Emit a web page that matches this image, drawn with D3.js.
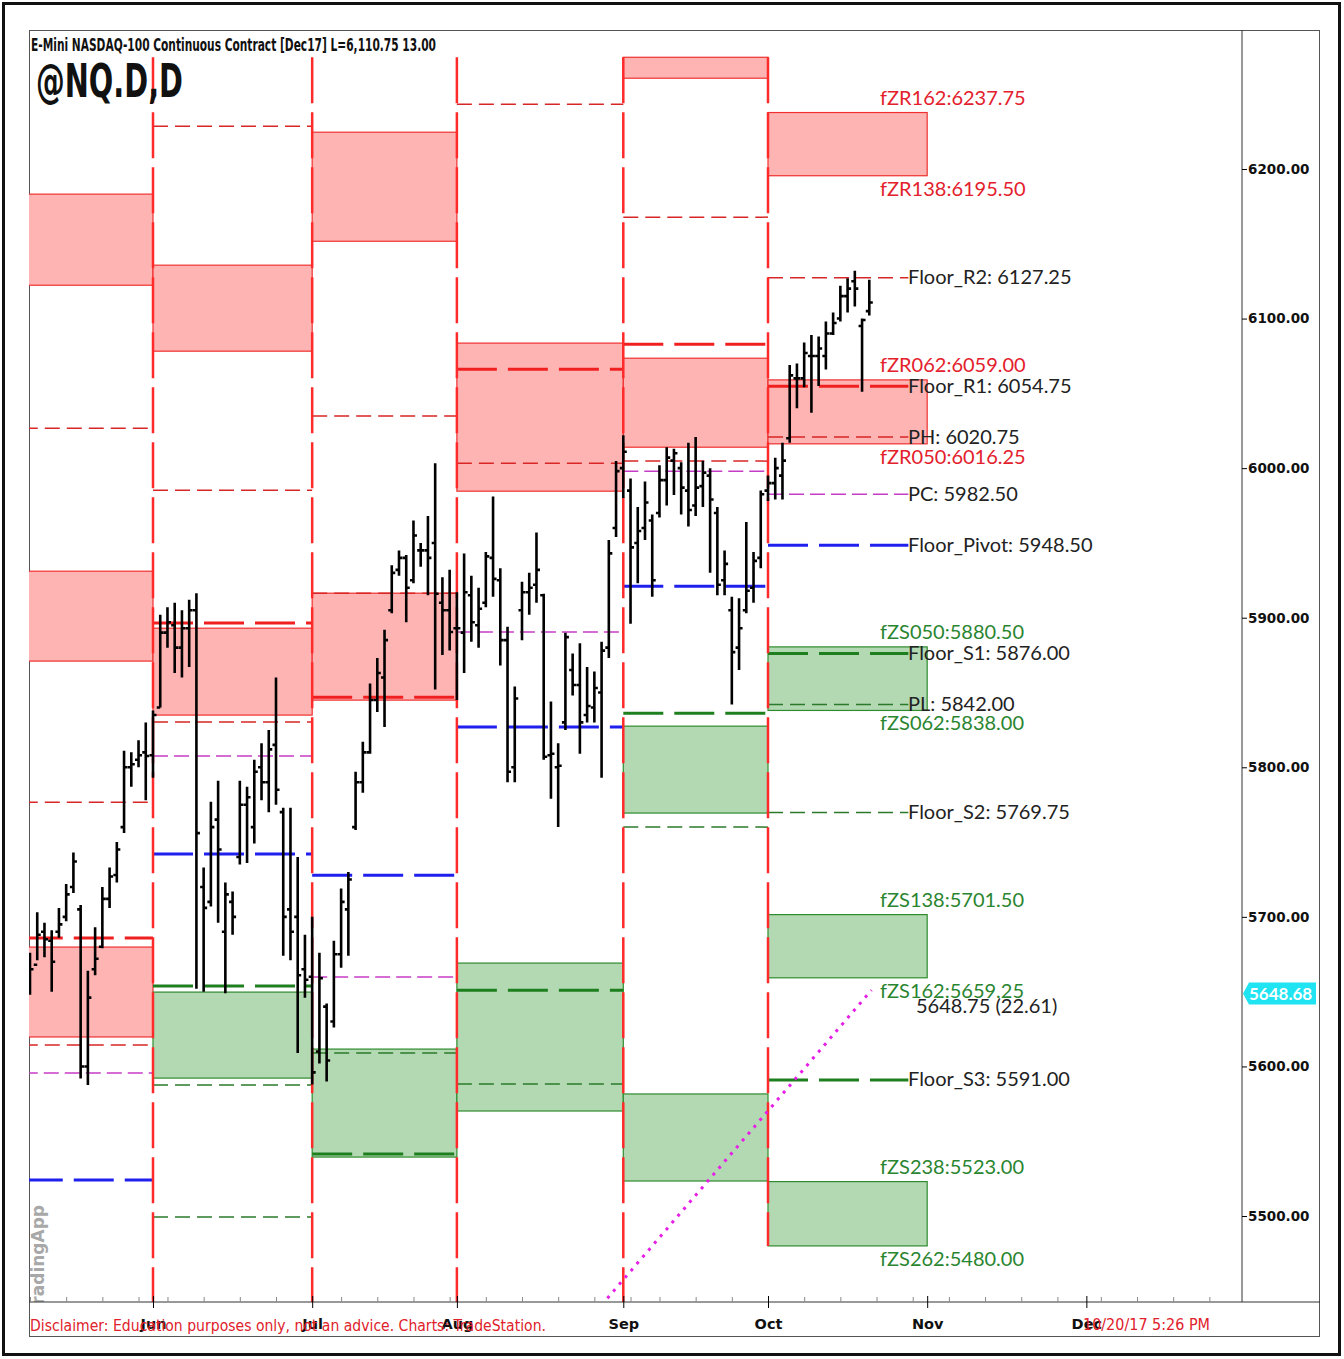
<!DOCTYPE html>
<meta charset="utf-8">
<script src="https://d3js.org/d3.v7.min.js"></script>
<style>
  body { margin: 0; background: #fff; }
</style>
<div id="chart"></div>
<script>
// x positions are trading-day indexes, 0 = first session of June
const monthNames = ["Jun", "Jul", "Aug", "Sep", "Oct", "Nov", "Dec"];
const monthIdx = [0, 22, 42, 65, 85, 107, 129];
const weekIdx = [-17, -12, -7, -2, 2, 7, 12, 17, 26, 31, 36, 41, 46, 51, 56, 61, 66, 70, 75, 80, 90, 95, 100, 105, 110, 115, 120, 125, 131, 136, 141, 146];
const priceTicks = [5500, 5600, 5700, 5800, 5900, 6000, 6100, 6200];

// daily OHLC bars, the first one sits at index -17
const firstBar = -17;
const barOpen = [
  5670, 5668, 5690, 5684, 5690, 5700, 5720, 5705, 5600, 5665, 5680, 5712, 5728, 5760, 5800, 5805, 5810,
  5808, 5840, 5890, 5895, 5880, 5893, 5905, 5720, 5710, 5765, 5690, 5710, 5740, 5775, 5760, 5800, 5790, 5815, 5770, 5705, 5700, 5665,
  5660, 5610, 5640, 5630, 5675, 5705, 5760, 5790, 5810, 5845, 5860, 5905, 5932, 5940, 5925, 5945, 5945, 5950, 5910, 5905,
  5893, 5890, 5915, 5895, 5910, 5940, 5925, 5885, 5800, 5905, 5917, 5922, 5915, 5808, 5800, 5830, 5865, 5855, 5835, 5840, 5850, 5880, 5960,
  6000, 5985, 5950, 5960, 5965, 5970, 5992, 6005, 6000, 5985, 5975, 5988, 5995, 5970, 5925, 5905, 5880, 5905, 5920, 5940,
  5985, 5990, 5995, 6020, 6060, 6060, 6075, 6075, 6075, 6090, 6100, 6115, 6125, 6095, 6105
];
const barHigh = [
  5676, 5703, 5696, 5691, 5706, 5722, 5743, 5708, 5664, 5693, 5720, 5733, 5750, 5811, 5810, 5818, 5830,
  5838, 5902, 5907, 5910, 5905, 5912, 5916.4, 5733, 5777, 5791, 5723, 5717, 5791, 5787, 5805, 5816, 5825, 5860, 5773, 5773, 5740, 5688,
  5700, 5676, 5642, 5684, 5719, 5730, 5797, 5817, 5856, 5873, 5892, 5935, 5945, 5942, 5965, 5950, 5968, 6003.3, 5927, 5932,
  5917, 5943, 5928, 5920, 5944, 5981, 5933, 5894, 5854, 5924, 5930, 5957, 5916, 5844, 5816, 5890, 5876, 5883, 5867, 5864, 5884, 5952, 6004.7,
  6022, 5993, 5974, 5991, 5969, 6002, 6014, 6013, 6004, 6017, 6020.75, 6005, 6000, 5974, 5945, 5914, 5913, 5964, 5944, 5985,
  5995, 6007, 6017, 6069, 6070, 6084, 6089, 6088, 6098, 6104, 6122, 6127, 6132, 6100, 6126
];
const barLow = [
  5648, 5671, 5673, 5650, 5686, 5697, 5716, 5592, 5587.6, 5661, 5679, 5706, 5723, 5756, 5787, 5800, 5778,
  5793, 5840, 5880, 5863, 5860, 5867, 5652, 5650, 5707, 5696, 5649, 5688, 5735, 5736, 5749, 5778, 5770, 5775, 5674, 5671, 5609, 5646,
  5588, 5602, 5590, 5626, 5666, 5674, 5758, 5783, 5809, 5837, 5827, 5903, 5928, 5897, 5923, 5934, 5915, 5852, 5875, 5878,
  5845, 5863, 5884, 5880, 5907, 5914, 5868, 5790, 5790, 5885, 5902, 5910, 5805, 5779, 5760, 5825, 5848, 5809, 5830, 5830, 5793, 5873, 5954,
  5980, 5896, 5923, 5952, 5914, 5967, 5975, 5982, 5969, 5961, 5968, 5974, 5930, 5915, 5915, 5842, 5865, 5903, 5910, 5933,
  5978, 5979, 5979, 6017, 6040, 6054, 6037, 6055, 6066, 6089, 6098, 6104, 6108, 6051, 6102
];
const barClose = [
  5665, 5688, 5685, 5670, 5695, 5715, 5737, 5600, 5646, 5672, 5712, 5727, 5745, 5800, 5802, 5808, 5807.5,
  5835, 5890, 5897, 5880, 5893, 5905, 5756, 5706, 5760, 5745, 5715, 5700, 5775, 5780, 5797, 5790, 5812, 5785, 5700, 5690, 5661, 5658,
  5596, 5659, 5604, 5675, 5710, 5725, 5790, 5810, 5845, 5863, 5885, 5930, 5940, 5920, 5955, 5945, 5940, 5916, 5905, 5890.4,
  5893, 5917, 5897, 5906, 5941, 5926, 5885, 5797, 5846, 5917, 5920, 5932, 5807, 5809, 5801, 5887, 5855, 5830, 5841, 5853, 5878, 5943, 5998,
  6011, 5947, 5958, 5977, 5925, 5992, 6007, 6010, 5987, 5972, 5987, 5997, 5979, 5922, 5936, 5877, 5893, 5918, 5938, 5982.5,
  5990, 6000, 6005, 6062, 6060, 6077, 6075, 6080, 6090, 6097, 6115, 6120, 6120, 6099, 6110.75
];

// monthly projection columns (May .. Oct)
const colStart = [-18, 0, 22, 42, 65, 85];
const colEnd = [0, 22, 42, 65, 85, 107];
const colLineEnd = [0, 22, 42, 65, 85, 104.4];

// shaded zones: R = resistance (pink), S = support (green)
const zoneCol = [0, 0, 0, 1, 1, 1, 2, 2, 2, 3, 3, 4, 4, 4, 4, 5, 5, 5, 5, 5];
const zoneHi = [6183.2, 5931.1, 5679.8, 6135.7, 5893.0, 5649.7, 6224.6, 5916.4, 5611.6, 6083.6, 5669.1, 6274.7, 6073.5, 5827.5, 5581.6, 6237.75, 6059.00, 5880.50, 5701.50, 5523.00];
const zoneLo = [6122.3, 5871.0, 5619.7, 6078.2, 5834.9, 5592.2, 6151.7, 5844.9, 5539.4, 5984.6, 5570.2, 6260.7, 6014.0, 5769.4, 5523.4, 6195.50, 6016.25, 5838.00, 5659.25, 5480.00];
const zoneKind = ["R", "R", "R", "R", "R", "S", "R", "R", "S", "R", "S", "R", "R", "S", "S", "R", "R", "S", "S", "S"];

// dashed pivot levels
const levelCol = [0, 0, 0, 0, 0, 0,
  1, 1, 1, 1, 1, 1, 1, 1, 1,
  2, 2, 2, 2, 2, 2, 2,
  3, 3, 3, 3, 3, 3, 3,
  4, 4, 4, 4, 4, 4, 4,
  5, 5, 5, 5, 5, 5, 5, 5, 5];
const levelValue = [6026.7, 5776.7, 5685.8, 5614.3, 5595.6, 5524.1,
  6228.6, 5985.3, 5896.4, 5830.2, 5807.5, 5742.0, 5653.7, 5587.6, 5499.3,
  6034.8, 5916.4, 5846.9, 5727.9, 5659.8, 5609.0, 5541.4,
  6243.3, 6066.2, 6003.3, 5890.4, 5826.9, 5651.0, 5588.2,
  6167.8, 6082.9, 6004.7, 5998.0, 5921.1, 5836.2, 5760.0,
  6127.25, 6054.75, 6020.75, 5982.50, 5948.50, 5876.00, 5842.00, 5769.75, 5591.00];
const levelKind = ["rt", "rt", "rT", "rt", "m", "b",
  "rt", "rt", "rT", "rt", "m", "b", "gT", "gt", "gt",
  "rt", "rt", "rT", "b", "m", "gt", "gT",
  "rt", "rT", "rt", "m", "b", "gT", "gt",
  "rt", "rT", "rt", "m", "b", "gT", "gt",
  "rt", "rT", "rt", "m", "b", "gT", "gt", "gt", "gT"];

// labels of the current (October) column
const labelText = ["fZR162:6237.75", "fZR138:6195.50", "Floor_R2: 6127.25", "fZR062:6059.00", "Floor_R1: 6054.75",
  "PH: 6020.75", "fZR050:6016.25", "PC: 5982.50", "Floor_Pivot: 5948.50", "fZS050:5880.50", "Floor_S1: 5876.00",
  "PL: 5842.00", "fZS062:5838.00", "Floor_S2: 5769.75", "fZS138:5701.50", "fZS162:5659.25", "Floor_S3: 5591.00",
  "fZS238:5523.00", "fZS262:5480.00"];
const labelValue = [6237.75, 6195.50, 6127.25, 6059.00, 6054.75, 6020.75, 6016.25, 5982.50, 5948.50, 5880.50, 5876.00,
  5842.00, 5838.00, 5769.75, 5701.50, 5659.25, 5591.00, 5523.00, 5480.00];
const labelPos = [-1, 1, 0, -1, 0, 0, 1, 0, 0, -1, 0, 0, 1, 0, -1, 1, 0, -1, 1];
const labelKind = ["r", "r", "k", "r", "k", "k", "r", "k", "k", "g", "k", "k", "g", "k", "g", "g", "k", "g", "g"];

const trendFrom = [62.8, 5445];
const trendTo = [99.3, 5651];
const lastPrice = 5648.68;

const W = 1344, H = 1359;
const plot = { left: 29, top: 30, right: 1242, bottom: 1302 };
const condensed = "'DejaVu Sans Condensed', 'DejaVu Sans', sans-serif";

const svg = d3.select("#chart").append("svg")
  .attr("width", W).attr("height", H);

const x = d3.scaleLinear().domain([0, 85]).range([153, 768]);
const y = d3.scaleLinear().domain([5500, 6200]).range([1216, 169]);

svg.append("defs").append("clipPath").attr("id", "plotclip")
  .append("rect")
  .attr("x", plot.left).attr("y", plot.top)
  .attr("width", plot.right - plot.left).attr("height", plot.bottom - plot.top);

// frames
svg.append("rect").attr("x", 3.5).attr("y", 3.5).attr("width", 1336).attr("height", 1351)
  .attr("fill", "none").attr("stroke", "#111").attr("stroke-width", 3);
svg.append("rect").attr("x", 29.5).attr("y", 30.5).attr("width", 1290).attr("height", 1306)
  .attr("fill", "none").attr("stroke", "#555").attr("stroke-width", 1);

const g = svg.append("g").attr("clip-path", "url(#plotclip)");

// zones
g.selectAll("rect.zone")
  .data(zoneCol.map((c, i) => i))
  .enter().append("rect")
  .attr("class", "zone")
  .attr("x", i => x(colStart[zoneCol[i]]))
  .attr("width", i => x(colEnd[zoneCol[i]]) - x(colStart[zoneCol[i]]))
  .attr("y", i => y(zoneHi[i]))
  .attr("height", i => y(zoneLo[i]) - y(zoneHi[i]))
  .attr("fill", i => zoneKind[i] === "R" ? "#ffb4b4" : "#b3d9b3")
  .attr("stroke", i => zoneKind[i] === "R" ? "#f03030" : "#2e8b2e")
  .attr("stroke-width", 1.2);

// level lines
const levelStyle = {
  rt: { c: "#d82626", w: 1.5, d: "15,7" },
  rT: { c: "#f02020", w: 3, d: "40,11" },
  m: { c: "#c63cc6", w: 1.5, d: "15,6" },
  b: { c: "#1f1fee", w: 3, d: "40,11" },
  gT: { c: "#1e7f1e", w: 3, d: "40,11" },
  gt: { c: "#2b7a2b", w: 1.5, d: "15,7" }
};
g.selectAll("line.level")
  .data(levelCol.map((c, i) => i))
  .enter().append("line")
  .attr("class", "level")
  .attr("x1", i => x(colStart[levelCol[i]]))
  .attr("x2", i => x(colLineEnd[levelCol[i]]))
  .attr("y1", i => y(levelValue[i]))
  .attr("y2", i => y(levelValue[i]))
  .attr("stroke", i => levelStyle[levelKind[i]].c)
  .attr("stroke-width", i => levelStyle[levelKind[i]].w)
  .attr("stroke-dasharray", i => levelStyle[levelKind[i]].d);

// month separators
g.selectAll("line.sep")
  .data(monthIdx.slice(0, 5))
  .enter().append("line")
  .attr("x1", d => x(d)).attr("x2", d => x(d))
  .attr("y1", y(6274.7))
  .attr("y2", (d, i) => i === 4 ? y(5480) : plot.bottom)
  .attr("stroke", "#ff2a2a")
  .attr("stroke-width", 2.5)
  .attr("stroke-dasharray", "46,9");

// trend line
g.append("line")
  .attr("x1", x(trendFrom[0])).attr("y1", y(trendFrom[1]))
  .attr("x2", x(trendTo[0])).attr("y2", y(trendTo[1]))
  .attr("stroke", "#e61ee6").attr("stroke-width", 3)
  .attr("stroke-dasharray", "3,6");

// OHLC bars
const bars = barHigh.map((h, i) => ({
  i: firstBar + i, o: barOpen[i], h: h, l: barLow[i], c: barClose[i]
}));
g.selectAll("path.bar")
  .data(bars)
  .enter().append("path")
  .attr("class", "bar")
  .attr("d", d => {
    const cx = x(d.i);
    return `M${cx},${y(d.h)}V${y(d.l)}M${cx - 3.5},${y(d.o)}H${cx}M${cx},${y(d.c)}H${cx + 3.5}`;
  })
  .attr("fill", "none")
  .attr("stroke", "#000")
  .attr("stroke-width", 2.6);

// level labels
const labelColor = { r: "#e3202c", g: "#2a8530", k: "#222" };
svg.selectAll("text.lbl")
  .data(labelText.map((t, i) => i))
  .enter().append("text")
  .attr("x", i => labelKind[i] === "k" ? 908 : 880)
  .attr("y", i => y(labelValue[i]) + (labelPos[i] === -1 ? -8 : labelPos[i] === 1 ? 20 : 6.5))
  .attr("fill", i => labelColor[labelKind[i]])
  .style("font-family", "Lato")
  .style("font-size", "20px")
  .text(i => labelText[i]);

svg.append("text")
  .attr("x", 916).attr("y", y(5648.75) + 19)
  .attr("fill", "#222")
  .style("font-family", "Lato").style("font-size", "20px")
  .text("5648.75 (22.61)");

// axes
svg.append("line").attr("x1", plot.right).attr("x2", plot.right)
  .attr("y1", plot.top).attr("y2", plot.bottom).attr("stroke", "#333");
svg.append("line").attr("x1", plot.left).attr("x2", 1320)
  .attr("y1", plot.bottom).attr("y2", plot.bottom).attr("stroke", "#333");

const yAxis = svg.append("g")
  .attr("transform", `translate(${plot.right},0)`)
  .call(d3.axisRight(y).tickValues(priceTicks).tickSize(5).tickPadding(1).tickFormat(d3.format(".2f")));
yAxis.select(".domain").remove();
yAxis.selectAll("text")
  .style("font-family", "DejaVu Sans").style("font-weight", "bold").style("font-size", "13.5px").attr("fill", "#111");

const wk = svg.append("g")
  .attr("transform", `translate(0,${plot.bottom})`)
  .call(d3.axisBottom(x).tickValues(weekIdx).tickSize(-5).tickFormat(""));
wk.select(".domain").remove();
wk.selectAll("line").attr("stroke", "#888");

const mUp = svg.append("g")
  .attr("transform", `translate(0,${plot.bottom})`)
  .call(d3.axisBottom(x).tickValues(monthIdx).tickSize(-6).tickFormat(""));
mUp.select(".domain").remove();

const mAxis = svg.append("g")
  .attr("transform", `translate(0,${plot.bottom})`)
  .call(d3.axisBottom(x).tickValues(monthIdx).tickSize(6).tickPadding(11)
    .tickFormat((d, i) => monthNames[i]));
mAxis.select(".domain").remove();
mAxis.selectAll("text")
  .style("font-family", "DejaVu Sans").style("font-weight", "bold").style("font-size", "14.5px").attr("fill", "#111");

// last price marker
svg.append("path")
  .attr("d", `M${plot.right + 1},${y(lastPrice)}L${plot.right + 7},${y(lastPrice) - 11}H1316V${y(lastPrice) + 11}H${plot.right + 7}Z`)
  .attr("fill", "#21e4f2");
svg.append("text")
  .attr("x", 1249).attr("y", y(lastPrice) + 6)
  .attr("fill", "#fff")
  .style("font-family", "Lato").style("font-weight", "bold").style("font-size", "17px")
  .text("5648.68");

// titles
svg.append("text")
  .attr("x", 31).attr("y", 51)
  .attr("textLength", 405).attr("lengthAdjust", "spacingAndGlyphs")
  .style("font-family", condensed).style("font-weight", "bold").style("font-size", "17px")
  .attr("fill", "#111")
  .text("E-Mini NASDAQ-100 Continuous Contract [Dec17]  L=6,110.75  13.00");
svg.append("text")
  .attr("x", 36).attr("y", 97)
  .attr("textLength", 147).attr("lengthAdjust", "spacingAndGlyphs")
  .style("font-family", condensed).style("font-weight", "bold").style("font-size", "47px")
  .attr("fill", "#111")
  .text("@NQ.D,D");

// watermark
g.append("text")
  .attr("transform", "translate(44,1205) rotate(-90)")
  .attr("text-anchor", "end")
  .style("font-family", "DejaVu Sans").style("font-weight", "bold").style("font-size", "17px")
  .attr("fill", "#a8a8a8")
  .text("TradingApp");

// footer texts
svg.append("text")
  .attr("x", 30).attr("y", 1331)
  .attr("textLength", 516).attr("lengthAdjust", "spacingAndGlyphs")
  .style("font-family", condensed).style("font-size", "15px")
  .attr("fill", "#e0202a")
  .text("Disclaimer: Education purposes only, not an advice.  Charts: TradeStation.");
svg.append("text")
  .attr("x", 1083).attr("y", 1330)
  .attr("textLength", 127).attr("lengthAdjust", "spacingAndGlyphs")
  .style("font-family", condensed).style("font-size", "15px")
  .attr("fill", "#e0202a")
  .text("10/20/17 5:26 PM");
</script>
